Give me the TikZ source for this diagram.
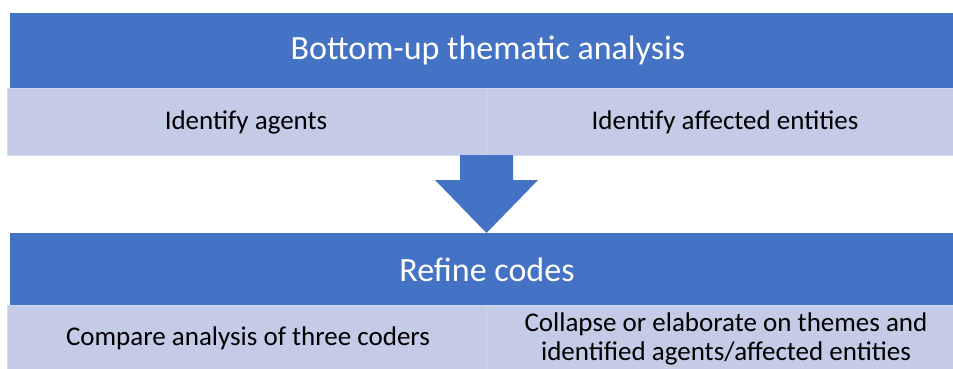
\documentclass[tikz,border=0pt]{standalone}
\usepackage{fontspec}
\setmainfont{Carlito}
\definecolor{hdrblue}{HTML}{4472C4}
\definecolor{cellblue}{HTML}{C3CBE6}
\definecolor{celledge}{HTML}{D3D9EE}
\begin{document}
\begin{tikzpicture}[x=1pt,y=-1pt,
  hdr/.style={fill=hdrblue,inner sep=0pt,anchor=north west},
  cell/.style={fill=cellblue,draw=celledge,line width=1.2pt,inner sep=0pt,anchor=north west},
  hdrtxt/.style={text=white,font=\fontsize{34}{40}\selectfont},
  celltxt/.style={text=black,font=\fontsize{27}{28.5}\selectfont,align=center}]
\useasboundingbox (0,0) rectangle (953,369);
\fill[white] (0,0) rectangle (953,369);
% top section
\node[hdr,minimum width=943pt,minimum height=75pt] (top) at (10,13) {};
\node[hdrtxt] (toptxt) at (488,50) {Bottom-up thematic analysis};
\node[cell,minimum width=479pt,minimum height=67pt] (c1) at (7,88) {};
\node[cell,minimum width=467pt,minimum height=67pt] (c2) at (486,88) {};
\node[celltxt] (t1) at (246,122) {Identify agents};
\node[celltxt] (t2) at (725,122) {Identify affected entities};
% bottom section
\node[hdr,minimum width=943pt,minimum height=72pt] (bot) at (10,233) {};
\node[hdrtxt] (bottxt) at (487,270) {Refine codes};
\node[cell,minimum width=479pt,minimum height=66pt] (c3) at (7,305) {};
\node[cell,minimum width=467pt,minimum height=66pt] (c4) at (486,305) {};
\node[celltxt] (t3) at (248,338) {Compare analysis of three coders};
\node[celltxt] (t4) at (726,339) {Collapse or elaborate on themes and\\identified agents/affected entities};
% block arrow
\fill[hdrblue] (460,155) -- (513,155) -- (513,180) -- (538,180) -- (486.5,233) -- (435,180) -- (460,180) -- cycle;
\end{tikzpicture}
\end{document}
